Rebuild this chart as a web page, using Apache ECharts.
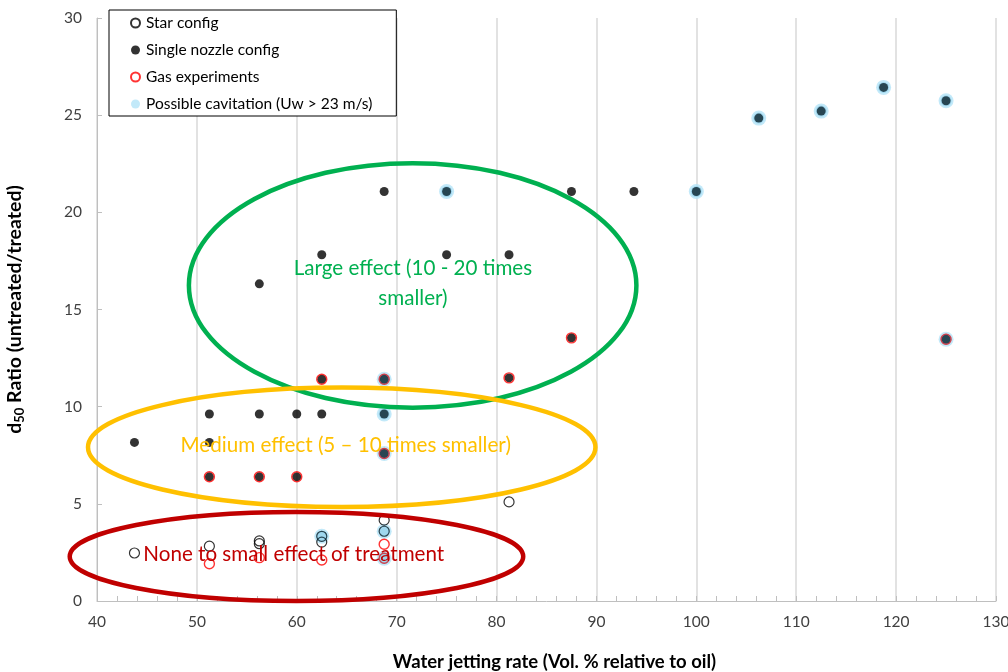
<!DOCTYPE html>
<html>
<head>
<meta charset="utf-8">
<script src="https://cdn.jsdelivr.net/npm/echarts@6/dist/echarts.min.js"></script>
<style>
html,body{margin:0;padding:0;background:#fff;}
#chart{width:1008px;height:672px;}
</style>
</head>
<body>
<div id="chart"></div>
<script>
// ---- Data (x = water jetting rate, y = d50 ratio) ----
const starConfig = [
  [43.75, 2.47], [51.25, 2.82], [56.25, 3.09], [56.25, 2.95], [62.5, 3.33],
  [62.5, 3.03], [68.75, 4.16], [68.75, 3.59], [81.25, 5.10]
];
const singleNozzle = [
  [43.75, 8.16], [51.25, 9.62], [51.25, 8.16], [56.25, 9.62], [60, 9.62], [62.5, 9.62],
  [68.75, 9.62], [68.75, 7.59], [51.25, 6.39], [56.25, 6.39], [60, 6.39],
  [62.5, 11.41], [68.75, 11.41], [81.25, 11.48], [87.5, 13.54], [56.25, 16.32],
  [62.5, 17.82], [75, 17.82], [81.25, 17.82], [68.75, 21.07], [75, 21.07],
  [87.5, 21.07], [93.75, 21.07], [100, 21.07], [106.25, 24.85], [112.5, 25.21],
  [118.75, 26.43], [125, 25.74], [125, 13.47]
];
const gasExperiments = [
  [51.25, 1.92], [56.25, 2.23], [62.5, 2.11], [68.75, 2.92], [68.75, 2.20],
  [51.25, 6.39], [56.25, 6.39], [60, 6.39], [68.75, 7.59], [62.5, 11.41],
  [68.75, 11.41], [81.25, 11.48], [87.5, 13.54], [125, 13.47]
];
const cavitation = [
  [62.5, 3.33], [68.75, 3.59], [68.75, 2.20], [68.75, 7.59], [68.75, 9.62],
  [68.75, 11.41], [75, 21.07], [100, 21.07], [106.25, 24.85], [112.5, 25.21],
  [118.75, 26.43], [125, 25.74], [125, 13.47]
];
const seriesNames = ['Star config', 'Single nozzle config', 'Gas experiments', 'Possible cavitation (Uw > 23 m/s)'];
const xTicks = { min: 40, max: 130, interval: 10 };
const yTicks = { min: 0, max: 30, interval: 5 };

// Annotation regions (data units)
const regions = [
  { cx: 71.6, cy: 16.24, rx: 22.4, ry: 6.29, color: '#00b050', text: 'Large effect (10 - 20 times\nsmaller)', tx: 71.63, ty: 16.34 },
  { cx: 64.5, cy: 7.91, rx: 25.4, ry: 3.07, color: '#ffc000', text: 'Medium effect (5 \u2013 10 times smaller)', tx: 64.9, ty: 7.99 },
  { cx: 59.97, cy: 2.29, rx: 22.7, ry: 2.29, color: '#c00000', text: 'None to small effect of treatment', tx: 59.7, ty: 2.42 }
];

const FONT = 'Lato, "Liberation Sans", sans-serif';
const chart = echarts.init(document.getElementById('chart'), null, { renderer: 'canvas' });

const option = {
  backgroundColor: '#fff',
  animation: false,
  textStyle: { fontFamily: FONT },
  grid: { left: 97, right: 12, top: 18, bottom: 71, containLabel: false, outerBoundsMode: 'none' },
  legend: {
    data: seriesNames,
    orient: 'vertical',
    left: 109, top: 10,
    padding: [4, 24, 3, 21],
    itemGap: 9,
    itemWidth: 9, itemHeight: 9,
    borderColor: '#000', borderWidth: 1,
    backgroundColor: '#fff',
    textStyle: { fontFamily: FONT, fontSize: 15.5, color: '#000', padding: [0, 0, 0, 1], lineHeight: 18 },
    z: 200
  },
  xAxis: {
    type: 'value', min: xTicks.min, max: xTicks.max, interval: xTicks.interval,
    name: 'Water jetting rate (Vol. % relative to oil)',
    nameLocation: 'middle', nameGap: 52,
    nameTextStyle: { fontFamily: FONT, fontWeight: 'bold', fontSize: 18.5, color: '#000', padding: [0, 0, 0, 16] },
    axisLine: { show: true, lineStyle: { color: '#bfbfbf', width: 1 } },
    axisTick: { show: true, inside: true, length: 5, lineStyle: { color: '#bfbfbf' } },
    minorTick: { show: true, splitNumber: 5, length: 5, lineStyle: { color: '#bfbfbf' } },
    axisLabel: { fontFamily: FONT, fontSize: 15.5, color: '#404040', margin: 13 },
    splitLine: { show: true, lineStyle: { color: '#d9d9d9', width: 1.5 } }
  },
  yAxis: {
    type: 'value', min: yTicks.min, max: yTicks.max, interval: yTicks.interval,
    name: '{b|d}{s|50}{b| Ratio (untreated/treated)}',
    nameLocation: 'middle', nameGap: 71, nameRotate: 90,
    nameTextStyle: {
      fontFamily: FONT, fontWeight: 'bold', fontSize: 19.5, color: '#000', padding: [0, 0, 0, 0],
      rich: {
        b: { fontFamily: FONT, fontWeight: 'bold', fontSize: 19.5, color: '#000' },
        s: { fontFamily: FONT, fontWeight: 'bold', fontSize: 13, color: '#000', verticalAlign: 'bottom', padding: [9, 0, 0, 0] }
      }
    },
    axisLine: { show: true, lineStyle: { color: '#bfbfbf', width: 1 } },
    axisTick: { show: true, inside: true, length: 5, lineStyle: { color: '#bfbfbf' } },
    axisLabel: { fontFamily: FONT, fontSize: 15.5, color: '#404040', margin: 15 },
    splitLine: { show: false }
  },
  series: [
    {
      name: seriesNames[3], type: 'scatter', data: cavitation, symbol: 'circle', symbolSize: 15,
      itemStyle: { color: '#b3e3f7' }, z: 2
    },
    {
      name: seriesNames[0], type: 'scatter', data: starConfig, symbol: 'circle', symbolSize: 10,
      itemStyle: { color: 'rgba(255,255,255,0)', borderColor: '#000', borderWidth: 1.2 }, z: 3
    },
    {
      name: seriesNames[1], type: 'scatter', data: singleNozzle, symbol: 'circle', symbolSize: 9,
      itemStyle: { color: '#000' }, z: 4
    },
    {
      name: seriesNames[2], type: 'scatter', data: gasExperiments, symbol: 'circle', symbolSize: 10,
      itemStyle: { color: 'rgba(255,255,255,0)', borderColor: '#ff0000', borderWidth: 1.4 }, z: 5
    },
    {
      name: 'cavitation-tint', type: 'scatter', data: cavitation, symbol: 'circle', symbolSize: 11,
      itemStyle: { color: 'rgba(40,150,200,0.28)' }, z: 6, silent: true
    }
  ]
};
chart.setOption(option);

function buildAnnotations() {
  const els = [];
  regions.forEach(r => {
    const c = chart.convertToPixel({ gridIndex: 0 }, [r.cx, r.cy]);
    const ex = chart.convertToPixel({ gridIndex: 0 }, [r.cx + r.rx, r.cy + r.ry]);
    els.push({
      type: 'ellipse', z: 100,
      shape: { cx: c[0], cy: c[1], rx: Math.abs(ex[0] - c[0]), ry: Math.abs(c[1] - ex[1]) },
      style: { fill: 'none', stroke: r.color, lineWidth: 4.5 }
    });
    const t = chart.convertToPixel({ gridIndex: 0 }, [r.tx, r.ty]);
    els.push({
      type: 'text', z: 101, x: t[0], y: t[1],
      style: {
        text: r.text, fill: r.color, font: '20.6px ' + FONT,
        align: 'center', verticalAlign: 'middle', lineHeight: 30
      }
    });
  });
  chart.setOption({ graphic: { elements: els } });
}
buildAnnotations();
</script>
</body>
</html>
